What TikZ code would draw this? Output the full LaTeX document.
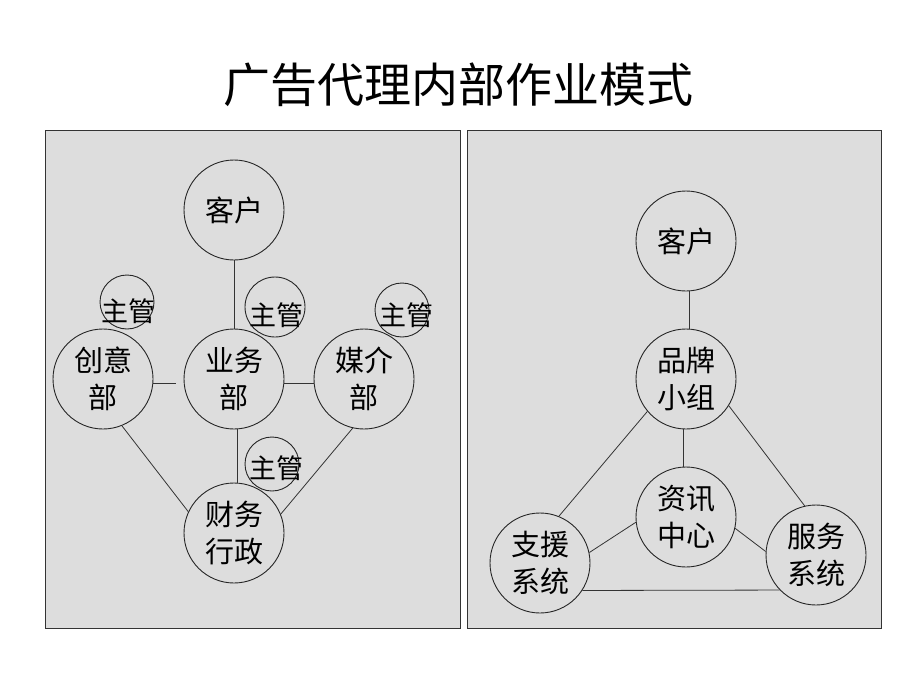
\documentclass[tikz,border=0pt]{standalone}
\usepackage{fontspec}
\setmainfont{Noto Sans CJK SC}
\begin{document}
\begin{tikzpicture}[x=1pt,y=-1pt,
  panel/.style={draw=black!80,line width=0.9pt,fill=panelgray},
  bigc/.style={draw=black!85,line width=0.9pt,circle,minimum size=100pt,inner sep=0pt,align=center,font=\fontsize{29}{37}\selectfont},
  smallc/.style={draw=black!85,line width=0.9pt,circle,inner sep=0pt},
  lbl/.style={inner sep=0pt,font=\fontsize{27}{30}\selectfont},
  link/.style={draw=black!80,line width=0.8pt}]
\definecolor{panelgray}{HTML}{DDDDDD}
\fill[white] (0,0) rectangle (920,690);
\useasboundingbox (0,0) rectangle (920,690);
\node[font=\fontsize{47}{52}\selectfont,inner sep=0pt] (title) at (458,85) {广告代理内部作业模式};
\draw[panel] (45,130) rectangle (460,628);
\draw[panel] (467,130) rectangle (881,628);
% left panel
\node[bigc] (kh1) at (234,210) {客户};
\node[bigc] (yw) at (234,379) {业务\\部};
\node[bigc] (cy) at (103,379) {创意\\部};
\node[bigc] (mj) at (364,379) {媒介\\部};
\node[bigc] (cw) at (234,533) {财务\\行政};
\node[smallc,minimum size=54pt] (zg1) at (127,302) {};
\node[smallc,minimum size=60pt] (zg2) at (275,307) {};
\node[smallc,minimum size=54pt] (zg3) at (402,310) {};
\node[smallc,minimum size=54pt] (zg4) at (272,464) {};
\node[lbl] (t1) at ([xshift=1pt,yshift=-9pt]zg1.center) {主管};
\node[lbl] (t2) at ([xshift=1pt,yshift=-8pt]zg2.center) {主管};
\node[lbl] (t3) at ([xshift=4pt,yshift=-5pt]zg3.center) {主管};
\node[lbl] (t4) at ([xshift=4pt,yshift=-4pt]zg4.center) {主管};
\draw[link] (kh1.south) -- (yw.north);
\draw[link,shorten >=8pt] (cy.-5) -- (yw.185);
\draw[link] (yw.-5) -- (mj.185);
\draw[link] ([xshift=3pt]yw.south) -- ([xshift=3pt]cw.north);
\draw[link] (cy.-68) -- (cw.155);
\draw[link] (mj.-103) -- (cw.22);
% right panel
\node[bigc] (kh2) at (686,241) {客户};
\node[bigc] (pp) at (686,379) {品牌\\小组};
\node[bigc] (zx) at (686,517) {资讯\\中心};
\node[bigc] (zy) at (540,563) {支援\\系统};
\node[bigc] (fw) at (816,555) {服务\\系统};
\draw[link] ([xshift=3pt]kh2.south) -- ([xshift=3pt]pp.north);
\draw[link] ([xshift=-3pt]pp.south) -- ([xshift=-3pt]zx.north);
\draw[link] (pp.220) -- (zy.68);
\draw[link] (pp.-32) -- (fw.103);
\draw[link] (zx.186) -- (zy.12);
\draw[link] (zx.-13) -- (fw.176);
\draw[link] (zy.-33) -- (fw.224);
\end{tikzpicture}
\end{document}
